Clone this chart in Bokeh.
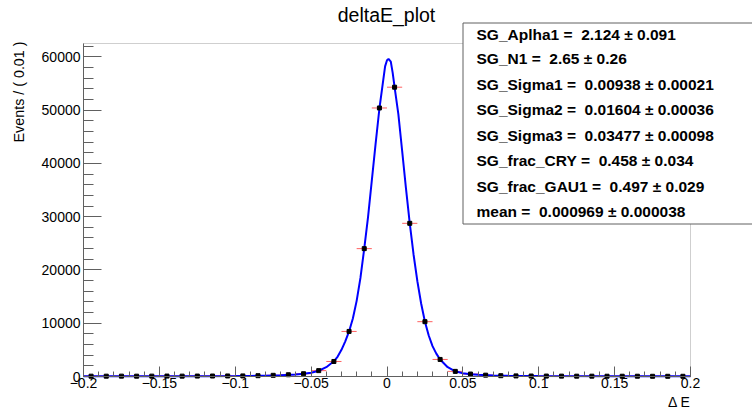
import math
import numpy as np
from bokeh.plotting import figure
from bokeh.models import (Label, BoxAnnotation, FixedTicker, LinearAxis,
                          CustomJSTickFormatter, ColumnDataSource, Range1d)
from bokeh.embed import file_html
from bokeh.resources import INLINE

# ---------------- data ----------------
bin_centers = [-0.195, -0.185, -0.175, -0.165, -0.155, -0.145, -0.135, -0.125,
               -0.115, -0.105, -0.095, -0.085, -0.075, -0.065, -0.055, -0.045,
               -0.035, -0.025, -0.015, -0.005, 0.005, 0.015, 0.025, 0.035,
               0.045, 0.055, 0.065, 0.075, 0.085, 0.095, 0.105, 0.115,
               0.125, 0.135, 0.145, 0.155, 0.165, 0.175, 0.185, 0.195]
counts = [60, 60, 70, 60, 70, 80, 70, 80,
          90, 100, 110, 150, 220, 330, 520, 1100,
          2820, 8460, 24000, 50400, 54300, 28750, 10290, 3200,
          960, 460, 250, 150, 110, 90, 80, 70,
          60, 60, 50, 50, 50, 40, 40, 40]
bin_width = 0.01

curve_x = [-0.200, -0.150, -0.120, -0.100, -0.090, -0.080, -0.070, -0.060,
           -0.055, -0.050, -0.045, -0.040, -0.035, -0.0325, -0.030, -0.0275,
           -0.025, -0.0225, -0.020, -0.0175, -0.015, -0.0125, -0.010, -0.0075,
           -0.005, -0.0025, -0.00125, 0.000, 0.001, 0.0025, 0.00375, 0.005,
           0.0075, 0.010, 0.0125, 0.015, 0.0175, 0.020, 0.0225, 0.025,
           0.0275, 0.030, 0.0325, 0.035, 0.040, 0.045, 0.050, 0.055,
           0.060, 0.070, 0.080, 0.100, 0.150, 0.200]
curve_y = [45, 55, 70, 90, 110, 150, 230, 380,
           500, 700, 1080, 1750, 2850, 3750, 5000, 6600,
           8460, 10900, 14200, 18500, 24000, 29900, 36800, 43700,
           50300, 55600, 58200, 59350, 59600, 59100, 57000, 54300,
           49200, 42300, 35300, 28750, 22900, 17900, 13700, 10290,
           7700, 5700, 4300, 3200, 1750, 980, 620, 440,
           320, 190, 130, 85, 55, 45]

param_names = ["SG_Aplha1", "SG_N1", "SG_Sigma1", "SG_Sigma2", "SG_Sigma3",
               "SG_frac_CRY", "SG_frac_GAU1", "mean"]
param_values = ["2.124", "2.65", "0.00938", "0.01604", "0.03477",
                "0.458", "0.497", "0.000969"]
param_errors = ["0.091", "0.26", "0.00021", "0.00036", "0.00098",
                "0.034", "0.029", "0.000038"]

x_major_ticks = [-0.2, -0.15, -0.1, -0.05, 0.0, 0.05, 0.1, 0.15, 0.2]
y_major_ticks = [0, 10000, 20000, 30000, 40000, 50000, 60000]

title_text = "deltaE_plot"
x_title = "\u0394 E"
y_title = "Events / ( 0.01 )"

# ---------------- layout ----------------
W, H = 752, 414
FL, FR, FT, FB = 83, 690, 43, 376      # ROOT frame in pixels
X0, X1 = -0.2, 0.2
Y0, Y1 = 0.0, 62500.0

def X(px):
    return X0 + (px - FL) / (FR - FL) * (X1 - X0)

def Y(py):
    return Y0 + (FB - py) / (FB - FT) * (Y1 - Y0)

x_minor_ticks = [round(v, 3) for v in np.arange(-0.2, 0.2001, 0.01)]
y_minor_ticks = list(range(0, 62001, 2000))

p = figure(width=W, height=H, x_range=Range1d(X(0), X(W)),
           y_range=Range1d(Y(H), Y(0)),
           output_backend="svg", toolbar_location=None,
           x_axis_location=None, y_axis_location=None,
           min_border=0, min_border_left=0, min_border_right=0,
           min_border_top=0, min_border_bottom=0)
p.xgrid.visible = False
p.ygrid.visible = False
p.background_fill_color = "white"
p.border_fill_color = "white"
p.outline_line_color = None

frame_col = "#606060"
font = "Liberation Sans"

xa = LinearAxis(fixed_location=0.0, bounds=(X0, X1),
                ticker=FixedTicker(ticks=x_major_ticks, minor_ticks=x_minor_ticks))
xa.formatter = CustomJSTickFormatter(code="""
    var v = Math.round(tick * 1000) / 1000;
    var s = Math.abs(v).toString();
    return (v < 0 ? '\u2212' : '') + s;
""")
xa.major_tick_in = 10
xa.major_tick_out = 0
xa.minor_tick_in = 5
xa.minor_tick_out = 0
xa.axis_line_color = frame_col
xa.major_tick_line_color = frame_col
xa.minor_tick_line_color = frame_col
xa.major_label_text_font = font
xa.major_label_text_font_size = "14px"
xa.major_label_text_color = "black"
xa.major_label_standoff = 1
p.add_layout(xa, "below")

ya = LinearAxis(fixed_location=X0, bounds=(Y0, Y1),
                ticker=FixedTicker(ticks=y_major_ticks, minor_ticks=y_minor_ticks))
ya.major_tick_in = 18
ya.major_tick_out = 0
ya.minor_tick_in = 10
ya.minor_tick_out = 0
ya.axis_line_color = frame_col
ya.major_tick_line_color = frame_col
ya.minor_tick_line_color = frame_col
ya.major_label_text_font = font
ya.major_label_text_font_size = "14px"
ya.major_label_text_color = "black"
ya.major_label_standoff = 3
p.add_layout(ya, "left")

# ROOT frame
p.add_layout(BoxAnnotation(left=X0, right=X1, bottom=Y0, top=Y1,
                           fill_alpha=0.0, line_color=frame_col, line_width=1))

# ---------------- data marks ----------------
src = ColumnDataSource(dict(
    x=bin_centers, y=counts,
    xl=[c - bin_width / 2 for c in bin_centers],
    xr=[c + bin_width / 2 for c in bin_centers],
    yl=[c - math.sqrt(c) for c in counts],
    yh=[c + math.sqrt(c) for c in counts],
))
p.segment(x0="xl", x1="xr", y0="y", y1="y", source=src,
          line_color="#ff6060", line_width=1)
p.segment(x0="x", x1="x", y0="yl", y1="yh", source=src,
          line_color="#ff6060", line_width=1)
p.line(curve_x, curve_y, line_color="#0000ff", line_width=2)
p.scatter(x="x", y="y", source=src, marker="square", size=4,
          fill_color="black", line_color="black")

# ---------------- titles ----------------
p.add_layout(Label(x=X(386), y=Y(14), text=title_text, text_font=font,
                   text_font_size="19.5px", text_align="center",
                   text_baseline="middle", text_color="black"))
p.add_layout(Label(x=X(FR), y=Y(401), text=x_title, text_font=font,
                   text_font_size="14px", text_align="right",
                   text_baseline="middle", text_color="black"))
p.add_layout(Label(x=X(18), y=Y(41), text=y_title, text_font=font,
                   text_font_size="14.3px", text_align="right",
                   text_baseline="middle", angle=math.pi / 2,
                   text_color="black"))

# ---------------- stats box ----------------
p.add_layout(BoxAnnotation(left=X(462.5), right=X(753), top=Y(22.5),
                           bottom=Y(223.5), fill_color="white", fill_alpha=1.0,
                           line_color=frame_col, line_width=1, line_alpha=1.0,
                           level="overlay"))
NB = "\u00a0"
line_y = [34, 58, 83.5, 109, 134.5, 160, 185.5, 211]
for n, v, e, ly in zip(param_names, param_values, param_errors, line_y):
    p.add_layout(Label(x=X(476), y=Y(ly),
                       text=f"{n}{NB}={NB}{NB}{v}{NB}\u00b1{NB}{e}",
                       text_font=font,
                       text_font_size="15.5px", text_font_style="bold",
                       text_align="left", text_baseline="middle",
                       text_color="black", level="overlay"))

open("out.html", "w").write(file_html(p, INLINE))
